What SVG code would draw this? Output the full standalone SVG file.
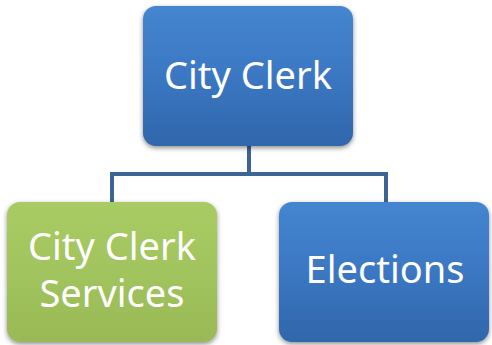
<svg xmlns="http://www.w3.org/2000/svg" width="492" height="345" viewBox="0 0 492 345">
<style>
.lbl{font-family:"Noto Sans","Open Sans","Liberation Sans",sans-serif;font-size:38px;fill:#ffffff;text-anchor:middle}
.conn{fill:none;stroke:#3c6494;stroke-width:4;stroke-linejoin:miter}
</style>
<defs>
<linearGradient id="gb" x1="0" y1="0" x2="0" y2="1">
<stop offset="0" stop-color="#4585d0"/>
<stop offset="0.5" stop-color="#3b77c2"/>
<stop offset="1" stop-color="#3066ab"/>
</linearGradient>
<linearGradient id="gg" x1="0" y1="0" x2="0" y2="1">
<stop offset="0" stop-color="#a9cb63"/>
<stop offset="0.5" stop-color="#a2c45e"/>
<stop offset="1" stop-color="#98b955"/>
</linearGradient>
<filter id="sh" x="-10%" y="-10%" width="120%" height="125%">
<feGaussianBlur in="SourceAlpha" stdDeviation="2.5"/>
<feOffset dx="0" dy="2" result="b"/>
<feComponentTransfer><feFuncA type="linear" slope="0.45"/></feComponentTransfer>
<feMerge><feMergeNode/><feMergeNode in="SourceGraphic"/></feMerge>
</filter>
</defs>
<rect width="492" height="345" fill="#ffffff"/>
<g id="connectors">
<path class="conn" d="M249 146 V174 M112 204 V174 H386 V204"/>
</g>
<g id="city-clerk">
<rect x="143" y="6" width="210" height="140" rx="13" fill="url(#gb)" filter="url(#sh)"/>
<text class="lbl" x="248" y="89">City Clerk</text>
</g>
<g id="city-clerk-services">
<rect x="7" y="202" width="210" height="140" rx="13" fill="url(#gg)" filter="url(#sh)"/>
<text class="lbl" x="112" y="260">City Clerk</text>
<text class="lbl" x="112" y="307">Services</text>
</g>
<g id="elections">
<rect x="279" y="202" width="210" height="140" rx="13" fill="url(#gb)" filter="url(#sh)"/>
<text class="lbl" x="385" y="283">Elections</text>
</g>
</svg>
